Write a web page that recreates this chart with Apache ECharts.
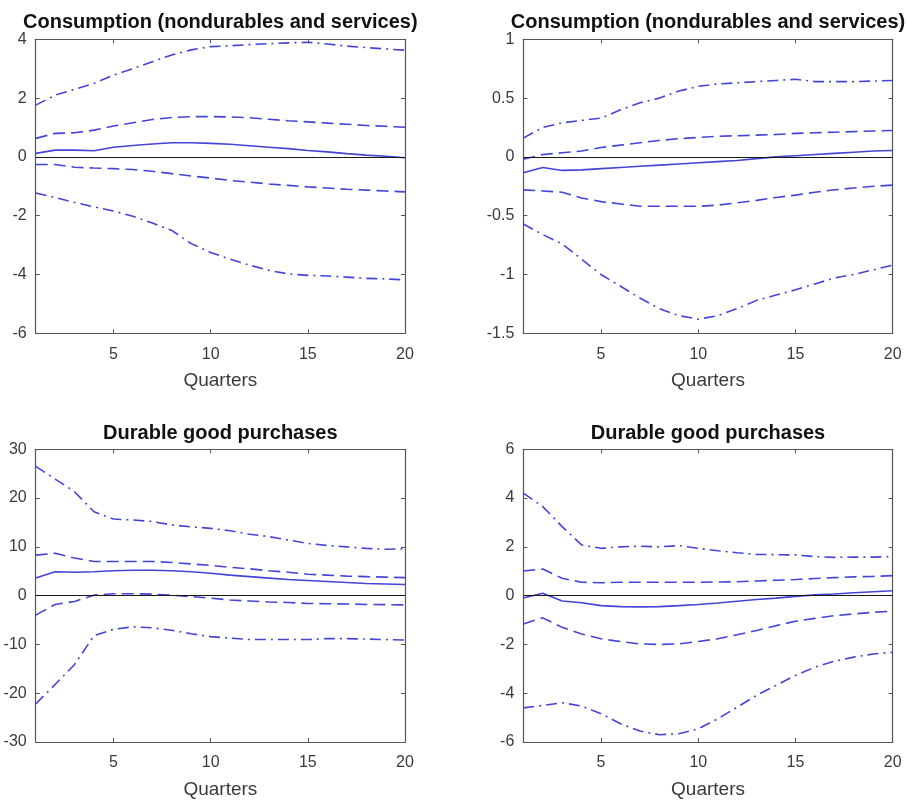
<!DOCTYPE html>
<html>
<head>
<meta charset="utf-8">
<script src="https://cdn.jsdelivr.net/npm/echarts@6/dist/echarts.min.js"></script>
<style>
html,body{margin:0;padding:0;background:#fff;}
#chart{width:907px;height:800px;}
</style>
</head>
<body>
<div id="chart"></div>
<script>
// ---- data ----
const quarters = [1,2,3,4,5,6,7,8,9,10,11,12,13,14,15,16,17,18,19,20];
const xTickValues = [5,10,15,20];
const xAxisName = 'Quarters';

const titles = [
  'Consumption (nondurables and services)',
  'Consumption (nondurables and services)',
  'Durable good purchases',
  'Durable good purchases'
];
const yMins = [-6, -1.5, -30, -6];
const yMaxs = [4, 1, 30, 6];
const yIntervals = [2, 0.5, 10, 2];

// Panel 1: top-left
const p1Upper90 = [1.76, 2.1, 2.3, 2.5, 2.78, 3.0, 3.24, 3.47, 3.64, 3.75, 3.78, 3.82, 3.85, 3.88, 3.9, 3.84, 3.77, 3.72, 3.67, 3.63];
const p1Upper68 = [0.63, 0.8, 0.82, 0.91, 1.05, 1.16, 1.27, 1.34, 1.37, 1.37, 1.36, 1.33, 1.28, 1.23, 1.19, 1.15, 1.11, 1.07, 1.04, 1.01];
const p1Median  = [0.12, 0.23, 0.23, 0.21, 0.33, 0.39, 0.44, 0.48, 0.48, 0.46, 0.43, 0.38, 0.33, 0.28, 0.22, 0.17, 0.11, 0.06, 0.02, -0.03];
const p1Lower68 = [-0.26, -0.26, -0.35, -0.38, -0.4, -0.43, -0.49, -0.57, -0.65, -0.72, -0.8, -0.86, -0.92, -0.97, -1.02, -1.06, -1.1, -1.13, -1.16, -1.19];
const p1Lower90 = [-1.23, -1.38, -1.55, -1.7, -1.84, -2.02, -2.25, -2.5, -2.95, -3.25, -3.48, -3.68, -3.86, -3.98, -4.03, -4.05, -4.09, -4.13, -4.15, -4.18];

// Panel 2: top-right
const p2Upper90 = [0.16, 0.25, 0.29, 0.31, 0.33, 0.4, 0.46, 0.5, 0.56, 0.6, 0.62, 0.63, 0.64, 0.65, 0.66, 0.64, 0.64, 0.64, 0.645, 0.65];
const p2Upper68 = [-0.02, 0.02, 0.035, 0.05, 0.08, 0.1, 0.12, 0.14, 0.155, 0.165, 0.175, 0.18, 0.185, 0.19, 0.2, 0.205, 0.21, 0.215, 0.22, 0.225];
const p2Median  = [-0.135, -0.09, -0.115, -0.11, -0.1, -0.09, -0.08, -0.07, -0.06, -0.05, -0.04, -0.03, -0.015, 0.0, 0.01, 0.02, 0.03, 0.04, 0.05, 0.055];
const p2Lower68 = [-0.28, -0.29, -0.3, -0.35, -0.38, -0.4, -0.42, -0.42, -0.42, -0.42, -0.41, -0.39, -0.37, -0.345, -0.325, -0.3, -0.28, -0.265, -0.25, -0.24];
const p2Lower90 = [-0.57, -0.66, -0.74, -0.87, -1.0, -1.1, -1.2, -1.29, -1.35, -1.38, -1.35, -1.29, -1.22, -1.175, -1.13, -1.08, -1.03, -1.0, -0.96, -0.92];

// Panel 3: bottom-left
const p3Upper90 = [26.5, 23.9, 21.3, 17.2, 15.7, 15.5, 15.2, 14.5, 14.1, 13.8, 13.3, 12.6, 12.1, 11.4, 10.7, 10.3, 10.0, 9.7, 9.5, 9.6];
const p3Upper68 = [8.3, 8.7, 7.7, 7.0, 7.0, 7.0, 7.0, 6.8, 6.5, 6.2, 5.8, 5.5, 5.1, 4.8, 4.4, 4.2, 4.0, 3.9, 3.8, 3.7];
const p3Median  = [3.6, 4.9, 4.8, 4.9, 5.1, 5.2, 5.2, 5.1, 4.9, 4.6, 4.2, 3.9, 3.6, 3.3, 3.1, 2.9, 2.7, 2.5, 2.4, 2.3];
const p3Lower68 = [-4.0, -1.8, -1.2, 0.1, 0.4, 0.4, 0.3, 0.1, -0.2, -0.5, -0.9, -1.1, -1.3, -1.4, -1.6, -1.65, -1.7, -1.8, -1.85, -1.9];
const p3Lower90 = [-22.2, -18.2, -14.1, -8.2, -6.9, -6.4, -6.6, -7.1, -7.8, -8.4, -8.7, -9.0, -9.0, -9.0, -9.0, -8.8, -8.8, -8.9, -9.0, -9.1];

// Panel 4: bottom-right
const p4Upper90 = [4.2, 3.65, 2.83, 2.08, 1.94, 2.0, 2.03, 2.0, 2.05, 1.94, 1.84, 1.76, 1.69, 1.68, 1.67, 1.6, 1.57, 1.58, 1.58, 1.6];
const p4Upper68 = [1.01, 1.09, 0.71, 0.55, 0.53, 0.55, 0.55, 0.55, 0.55, 0.55, 0.56, 0.57, 0.6, 0.63, 0.66, 0.7, 0.74, 0.77, 0.79, 0.82];
const p4Median  = [-0.1, 0.1, -0.22, -0.29, -0.41, -0.45, -0.46, -0.45, -0.41, -0.36, -0.3, -0.23, -0.16, -0.1, -0.03, 0.03, 0.07, 0.12, 0.16, 0.2];
const p4Lower68 = [-1.16, -0.91, -1.3, -1.57, -1.77, -1.88, -1.98, -2.0, -1.98, -1.88, -1.77, -1.6, -1.43, -1.23, -1.05, -0.93, -0.82, -0.75, -0.68, -0.64];
const p4Lower90 = [-4.6, -4.5, -4.39, -4.53, -4.84, -5.25, -5.55, -5.7, -5.66, -5.46, -5.05, -4.57, -4.09, -3.68, -3.27, -2.93, -2.69, -2.52, -2.39, -2.32];

const zeroLine = [0];

const panels = [
  [p1Upper90, p1Upper68, p1Median, p1Lower68, p1Lower90],
  [p2Upper90, p2Upper68, p2Median, p2Lower68, p2Lower90],
  [p3Upper90, p3Upper68, p3Median, p3Lower68, p3Lower90],
  [p4Upper90, p4Upper68, p4Median, p4Lower68, p4Lower90]
];

// ---- layout / styles ----
const FONT = '"Liberation Sans", Arial, Helvetica, sans-serif';
const LINE_COLOR = '#4444d6';
const AXIS_COLOR = '#555555';
const TEXT_COLOR = '#3a3a3a';
const gridBoxes = [
  {left: 35.7, top: 39.3, width: 369.3, height: 294},
  {left: 523.3, top: 39.3, width: 369.4, height: 294},
  {left: 35.7, top: 449.3, width: 369.3, height: 294},
  {left: 523.3, top: 449.3, width: 369.4, height: 294}
];
const titleTops = [12, 12, 423, 423];
const styles = ['dashdot', 'dashed', 'solid', 'dashed', 'dashdot'];
function lineType(s) {
  if (s === 'dashed') return [12, 6];
  if (s === 'dashdot') return [11, 5, 2, 5];
  return 'solid';
}

const grid = [], xAxis = [], yAxis = [], series = [], title = [];
gridBoxes.forEach((g, i) => {
  grid.push({left: g.left, top: g.top, width: g.width, height: g.height, containLabel: false});
  title.push({
    text: titles[i],
    left: g.left + g.width / 2,
    top: titleTops[i],
    padding: 0,
    textAlign: 'center',
    textStyle: {fontFamily: FONT, fontSize: 20, fontWeight: 'bold', color: '#111'}
  });
  // bottom x axis
  xAxis.push({
    type: 'value', gridIndex: i, min: 1, max: 20, position: 'bottom',
    name: xAxisName, nameLocation: 'middle', nameGap: 38,
    nameTextStyle: {fontFamily: FONT, fontSize: 19, color: TEXT_COLOR},
    axisLine: {show: true, onZero: false, lineStyle: {color: AXIS_COLOR, width: 1.2}},
    axisTick: {show: true, inside: true, length: 4, customValues: xTickValues, lineStyle: {color: AXIS_COLOR}},
    axisLabel: {show: true, customValues: xTickValues, margin: 13, fontFamily: FONT, fontSize: 16, color: TEXT_COLOR},
    splitLine: {show: false}
  });
  // top x axis (box + ticks)
  xAxis.push({
    type: 'value', gridIndex: i, min: 1, max: 20, position: 'top',
    axisLine: {show: true, onZero: false, lineStyle: {color: AXIS_COLOR, width: 1.2}},
    axisTick: {show: true, inside: true, length: 4, customValues: xTickValues, lineStyle: {color: AXIS_COLOR}},
    axisLabel: {show: false},
    splitLine: {show: false}
  });
  yAxis.push({
    type: 'value', gridIndex: i, min: yMins[i], max: yMaxs[i], interval: yIntervals[i], position: 'left',
    axisLine: {show: true, onZero: false, lineStyle: {color: AXIS_COLOR, width: 1.2}},
    axisTick: {show: true, inside: true, length: 4, lineStyle: {color: AXIS_COLOR}},
    axisLabel: {show: true, margin: 9, fontFamily: FONT, fontSize: 16, color: TEXT_COLOR},
    splitLine: {show: false}
  });
  yAxis.push({
    type: 'value', gridIndex: i, min: yMins[i], max: yMaxs[i], interval: yIntervals[i], position: 'right',
    axisLine: {show: true, onZero: false, lineStyle: {color: AXIS_COLOR, width: 1.2}},
    axisTick: {show: true, inside: true, length: 4, lineStyle: {color: AXIS_COLOR}},
    axisLabel: {show: false},
    splitLine: {show: false}
  });
  panels[i].forEach((vals, k) => {
    const s = {
      type: 'line',
      xAxisIndex: i * 2,
      yAxisIndex: i * 2,
      data: quarters.map((q, j) => [q, vals[j]]),
      showSymbol: false,
      symbol: 'none',
      smooth: false,
      silent: true,
      animation: false,
      lineStyle: {color: LINE_COLOR, width: 1.6, type: lineType(styles[k])},
      z: 3
    };
    if (k === 2) {
      s.markLine = {
        silent: true,
        symbol: ['none', 'none'],
        animation: false,
        label: {show: false},
        lineStyle: {color: '#1a1a1a', width: 1.2, type: 'solid'},
        data: zeroLine.map(v => ({yAxis: v}))
      };
    }
    series.push(s);
  });
});

const chart = echarts.init(document.getElementById('chart'), null, {renderer: 'canvas'});
chart.setOption({
  backgroundColor: '#ffffff',
  animation: false,
  title, grid, xAxis, yAxis, series
});
</script>
</body>
</html>
